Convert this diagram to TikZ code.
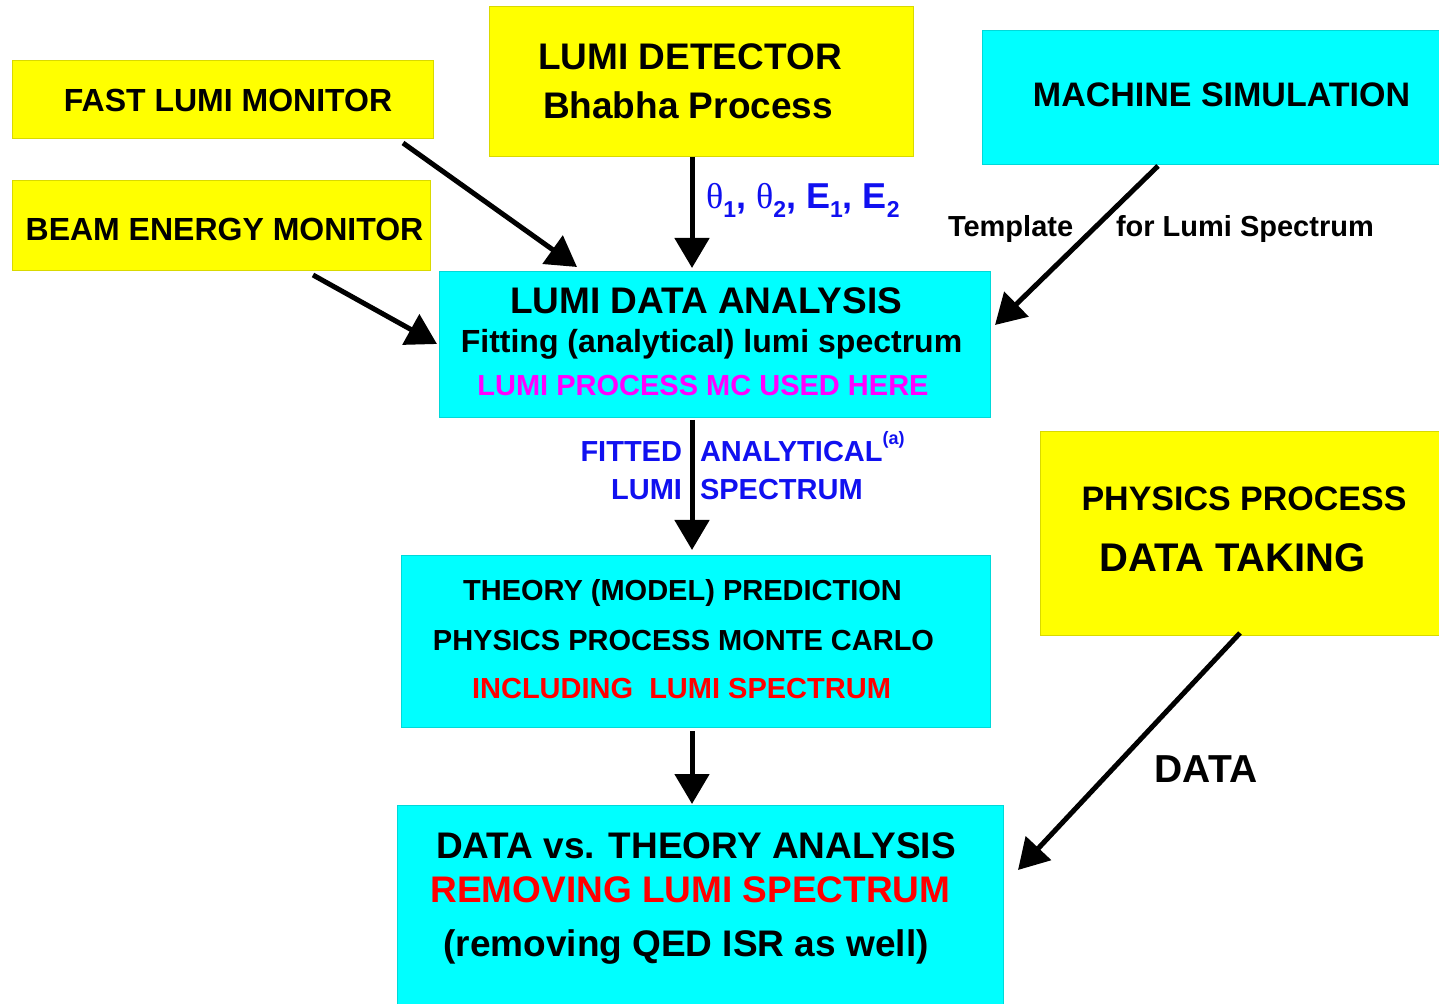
\documentclass[tikz,border=0pt]{standalone}
\usepackage{fontspec}
\setmainfont{Liberation Sans}
\newfontfamily\grk{Liberation Serif}
\usetikzlibrary{arrows.meta,fit,calc}
\definecolor{cyanbox}{RGB}{0,255,255}
\definecolor{yelbox}{RGB}{255,255,0}
\definecolor{txtblue}{RGB}{16,16,240}
\definecolor{txtmag}{RGB}{255,0,255}
\definecolor{txtred}{RGB}{255,0,0}
\newcommand\sbs[1]{\raisebox{-0.45ex}{\fontsize{11.5}{11.5}\selectfont #1}}
\newcommand\fs[1]{\fontsize{#1}{#1}\selectfont\bfseries}
\tikzset{
  ybox/.style={rectangle, inner sep=0pt, outer sep=0pt, fill=yelbox, draw=yelbox!85!black, line width=0.5pt},
  cbox/.style={rectangle, inner sep=0pt, outer sep=0pt, fill=cyanbox, draw=cyanbox!85!black, line width=0.5pt},
  txt/.style={inner sep=0pt, outer sep=0pt, anchor=base},
  arr/.style={line width=2.5pt, -{Triangle[length=15pt,width=17pt]}},
}
\begin{document}
\begin{tikzpicture}[x=0.5pt,y=-0.5pt]
\useasboundingbox (0,0) rectangle (1439,1004);
% boxes
\node[ybox, fit={(12,61) (433,139)}] (fast) {};
\node[ybox, fit={(12,181) (430,271)}] (beam) {};
\node[ybox, fit={(489,7) (913,157)}] (det) {};
\node[cbox, fit={(982,31) (1439,165)}] (mach) {};
\node[cbox, fit={(439,272) (990,418)}] (ld) {};
\node[ybox, fit={(1040,432) (1439,636)}] (phys) {};
\node[cbox, fit={(401,556) (990,727)}] (theory) {};
\node[cbox, fit={(397,805) (1003,1004)}] (dvt) {};
% texts
\node[txt] (tfast) at (228,111.5) {\fs{16}FAST LUMI MONITOR};
\node[txt] (tbeam) at (224.5,240.5) {\fs{16}BEAM ENERGY MONITOR};
\node[txt] (tdet1) at (690,70) {\fs{18.5}LUMI DETECTOR};
\node[txt] (tdet2) at (688,119) {\fs{18.5}Bhabha Process};
\node[txt] (tmach) at (1221.5,107) {\fs{17}MACHINE SIMULATION};
\node[txt, anchor=base west] (ttmpl) at (948,236.5) {\fs{14.5}Template};
\node[txt, anchor=base west] (tfor) at (1116,236.5) {\fs{14.5}for Lumi Spectrum};
\node[txt, anchor=base west, text=txtblue] (ttheta) at (706,208.5)
  {\fs{18}{\grk\mdseries θ}\sbs{1}, {\grk\mdseries θ}\sbs{2}, E\sbs{1}, E\sbs{2}};
\node[txt] (tld1) at (706,314) {\fs{18.5}LUMI DATA ANALYSIS};
\node[txt] (tld2) at (711.5,352.5) {\fs{16}Fitting (analytical) lumi spectrum};
\node[txt, text=txtmag] (tld3) at (703,395.5) {\fs{14.5}LUMI PROCESS MC USED HERE};
\node[txt, anchor=base east, text=txtblue] (tfit1) at (682,461.5) {\fs{14.5}FITTED};
\node[txt, anchor=base west, text=txtblue] (tfit2) at (700,461.5) {\fs{14.5}ANALYTICAL\raisebox{1.1ex}{\fontsize{9}{9}\selectfont (a)}};
\node[txt, anchor=base east, text=txtblue] (tfit3) at (682,499.5) {\fs{14.5}LUMI};
\node[txt, anchor=base west, text=txtblue] (tfit4) at (700,499.5) {\fs{14.5}SPECTRUM};
\node[txt] (tphys1) at (1244,511) {\fs{17}PHYSICS PROCESS};
\node[txt] (tphys2) at (1232.5,571.5) {\fs{20}DATA TAKING};
\node[txt] (tth1) at (682.5,600.5) {\fs{14.5}THEORY (MODEL) PREDICTION};
\node[txt] (tth2) at (683.5,650.5) {\fs{14.5}PHYSICS PROCESS MONTE CARLO};
\node[txt, text=txtred] (tth3) at (681.5,698.5) {\fs{14.5}INCLUDING\ \ LUMI SPECTRUM};
\node[txt] (tdvt1) at (696,858) {\fs{18.5}DATA vs. THEORY ANALYSIS};
\node[txt, text=txtred] (tdvt2) at (690.5,902) {\fs{18.5}REMOVING LUMI SPECTRUM};
\node[txt] (tdvt3) at (686,956) {\fs{18.5}(removing QED ISR as well)};
\node[txt] (tdata) at (1206,782) {\fs{19.5}DATA};
% arrows
\draw[arr] ($(fast.south)+(180.5,4)$) -- ($(ld.north)+(-137.5,-5)$);
\draw[arr] ($(beam.south)+(92,4)$) -- ($(ld.west)+(-2,-1)$);
\draw[arr] ($(det.south)+(-9,0)$) -- ($(ld.north)+(-22.5,-4)$);
\draw[arr] ($(mach.south)+(-52.5,1)$) -- ($(ld.east)+(5,-20)$);
\draw[arr] ($(ld.south)+(-22.5,2)$) -- ($(theory.north)+(-3.5,-6)$);
\draw[arr] ($(theory.south)+(-3.5,4)$) -- ($(dvt.north)+(-8,-1)$);
\draw[arr] ($(phys.south)+(0.5,-3)$) -- ($(dvt.east)+(15,-34.5)$);
\end{tikzpicture}
\end{document}
